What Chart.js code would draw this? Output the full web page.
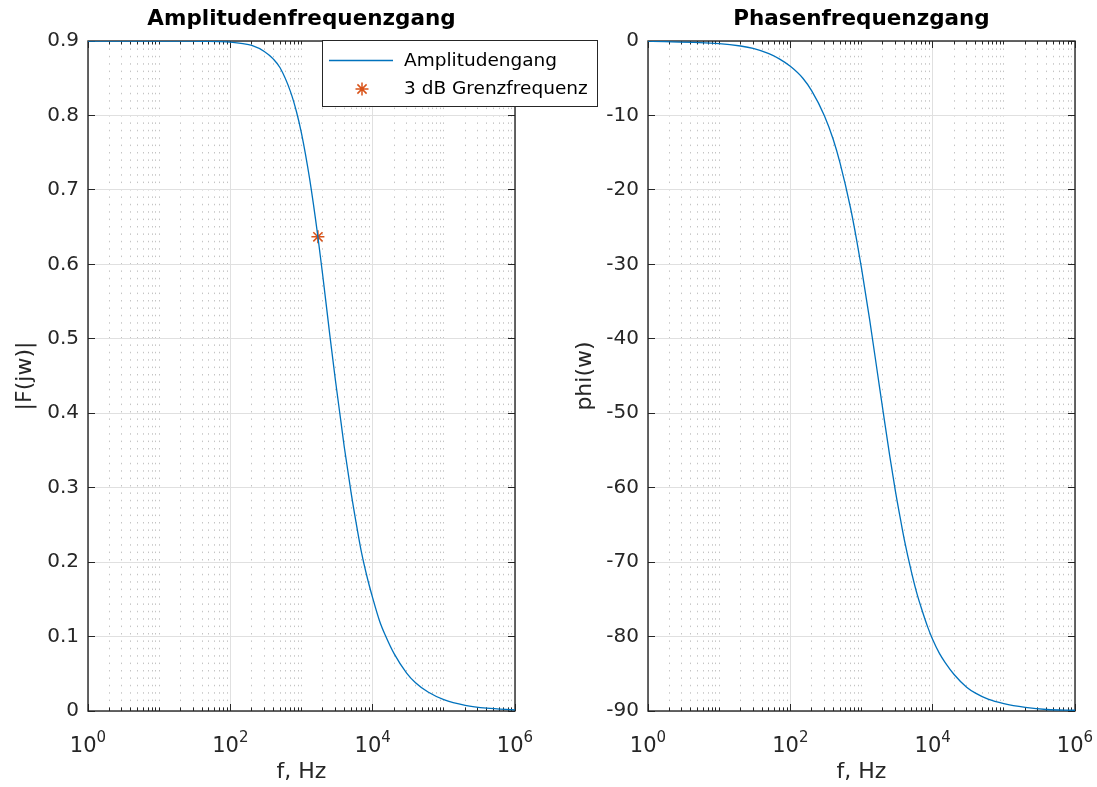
<!DOCTYPE html>
<html><head><meta charset="utf-8">
<script src="https://cdn.jsdelivr.net/npm/chart.js@4"></script>
<style>
html,body{margin:0;padding:0;background:#fff;}
#wrap{position:relative;width:1097px;height:787px;overflow:hidden;background:#fff;}
#c1{position:absolute;left:0;top:0;z-index:2;}
#c2{position:absolute;left:540px;top:0;z-index:1;}
</style></head><body>
<div id="wrap"><canvas id="c2" width="557" height="787"></canvas><canvas id="c1" width="640" height="787"></canvas></div>
<script>
// ---- data ----
const freqHz    = [1, 10, 20, 30, 50, 70, 100, 150, 200, 300, 400, 500, 700, 850, 1000, 1300, 1700, 2000, 2500, 3000, 3600, 4000, 5000, 6000, 7000, 8500, 10000, 12500, 15000, 20000, 30000, 40000, 60000, 100000, 200000, 400000, 1000000];
const amplitude = [0.900, 0.900, 0.8999, 0.8997, 0.8995, 0.8992, 0.8985, 0.8965, 0.894, 0.886, 0.876, 0.864, 0.832, 0.805, 0.776, 0.715, 0.637, 0.583, 0.505, 0.444, 0.387, 0.354, 0.292, 0.247, 0.212, 0.177, 0.152, 0.121, 0.102, 0.077, 0.051, 0.038, 0.0255, 0.0153, 0.0077, 0.0038, 0.0015];
const phaseDeg  = [-0.03, -0.34, -0.67, -1.0, -1.7, -2.4, -3.4, -5.0, -6.7, -10.0, -13.2, -16.4, -22.4, -26.6, -30.5, -37.4, -45.0, -49.6, -55.8, -60.5, -64.7, -67.0, -71.2, -74.2, -76.3, -78.7, -80.4, -82.3, -83.5, -85.1, -86.8, -87.6, -88.4, -89.0, -89.5, -89.8, -89.9];
const cutoffFreq = [1700];
const cutoffAmp  = [0.637];
const xMajorTicks = [1, 100, 10000, 1000000];
const xMajorExp   = ['0', '2', '4', '6'];
const ampTicks = [0, 0.1, 0.2, 0.3, 0.4, 0.5, 0.6, 0.7, 0.8, 0.9];
const phaseTicks = [-90, -80, -70, -60, -50, -40, -30, -20, -10, 0];
const titles = ['Amplitudenfrequenzgang', 'Phasenfrequenzgang'];
const yTitles = ['|F(jw)|', 'phi(w)'];
const xTitle = 'f, Hz';
const seriesNames = ['Amplitudengang', '3 dB Grenzfrequenz'];

// all x tick positions (1..9 x 10^k)
const xAllTicks = [];
for (let d = 0; d < 6; d++) for (let m = 1; m < 10; m++) xAllTicks.push(m * Math.pow(10, d));
xAllTicks.push(1000000);

// ---- style ----
const FAM = "'DejaVu Sans', 'Liberation Sans', Arial, sans-serif";
const TXT = '#262626';
const F_TICK = 20, F_XB = 21, F_EXP = 15, F_LAB = 22, F_TITLE = 21.5, F_LEG = 18.5;
const BLUE = '#0072BD', ORANGE = '#D95319';
const MAJOR_GRID = '#e0e0e0', MINOR_GRID = '#c4c4c4';

Chart.defaults.font.family = FAM;
Chart.defaults.color = TXT;
Chart.defaults.animation = false;

const isMajorX = v => xMajorTicks.includes(v);

function decor(withLegend) {
  return {
    id: 'decor',
    beforeDatasetsDraw(chart) {
      const ctx = chart.ctx, ca = chart.chartArea, xs = chart.scales.x, ys = chart.scales.y;
      ctx.save();
      ctx.strokeStyle = TXT; ctx.lineWidth = 1; ctx.setLineDash([]);
      ctx.beginPath();
      xs.ticks.forEach(t => {
        const px = Math.round(xs.getPixelForValue(t.value) - 0.5) + 0.5;
        const L = isMajorX(t.value) ? 7 : 3.5;
        ctx.moveTo(px, ca.bottom); ctx.lineTo(px, ca.bottom - L);
        ctx.moveTo(px, ca.top); ctx.lineTo(px, ca.top + L);
      });
      ys.ticks.forEach(t => {
        const py = Math.round(ys.getPixelForValue(t.value) - 0.5) + 0.5;
        ctx.moveTo(ca.left, py); ctx.lineTo(ca.left + 7, py);
        ctx.moveTo(ca.right, py); ctx.lineTo(ca.right - 7, py);
      });
      ctx.stroke();
      ctx.lineWidth = 1.4;
      ctx.strokeRect(ca.left, ca.top, ca.right - ca.left, ca.bottom - ca.top);
      ctx.restore();
    },
    afterDraw(chart) {
      const ctx = chart.ctx, xs = chart.scales.x;
      ctx.save();
      ctx.fillStyle = TXT; ctx.textBaseline = 'alphabetic'; ctx.textAlign = 'left';
      xMajorTicks.forEach((v, i) => {
        const px = xs.getPixelForValue(v);
        ctx.font = F_XB + 'px ' + FAM;
        const wb = ctx.measureText('10').width;
        ctx.font = F_EXP + 'px ' + FAM;
        const we = ctx.measureText(xMajorExp[i]).width;
        const x0 = px - (wb + we) / 2;
        ctx.font = F_XB + 'px ' + FAM;
        ctx.fillText('10', x0, 752);
        ctx.font = F_EXP + 'px ' + FAM;
        ctx.fillText(xMajorExp[i], x0 + wb, 742);
      });
      if (withLegend) {
        const ds = chart.data.datasets;
        ctx.fillStyle = '#ffffff';
        ctx.fillRect(322, 40, 276, 66);
        ctx.strokeStyle = TXT; ctx.lineWidth = 1;
        ctx.strokeRect(322.5, 40.5, 275, 66);
        ctx.strokeStyle = BLUE; ctx.lineWidth = 1.3;
        ctx.beginPath(); ctx.moveTo(329, 60.5); ctx.lineTo(393, 60.5); ctx.stroke();
        // star marker
        const sx = 362, sy = 89, r = 6.5;
        ctx.strokeStyle = ORANGE; ctx.lineWidth = 1.5;
        ctx.beginPath();
        ctx.moveTo(sx - r, sy); ctx.lineTo(sx + r, sy);
        ctx.moveTo(sx, sy - r); ctx.lineTo(sx, sy + r);
        const d = r * Math.SQRT1_2;
        ctx.moveTo(sx - d, sy - d); ctx.lineTo(sx + d, sy + d);
        ctx.moveTo(sx - d, sy + d); ctx.lineTo(sx + d, sy - d);
        ctx.stroke();
        ctx.fillStyle = '#000'; ctx.font = F_LEG + 'px ' + FAM; ctx.textBaseline = 'middle';
        ctx.fillText(ds[0].label, 404, 61);
        ctx.fillText(ds[1].label, 404, 89);
      }
      ctx.restore();
    }
  };
}

function xScale() {
  return {
    type: 'logarithmic', min: 1, max: 1000000,
    afterBuildTicks(scale) { scale.ticks = xAllTicks.map(v => ({ value: v, major: isMajorX(v) })); },
    afterFit(scale) { scale.height = 76; },
    ticks: { display: false, autoSkip: false },
    grid: {
      drawTicks: false,
      color: c => (c.tick && isMajorX(c.tick.value)) ? MAJOR_GRID : MINOR_GRID,
      lineWidth: 1
    },
    border: {
      display: false,
      dash: c => (c.tick && !isMajorX(c.tick.value)) ? [1.5, 5.9] : []
    },
    title: { display: true, text: xTitle, color: TXT, font: { size: F_LAB, family: FAM }, padding: { top: 0, bottom: 2 } }
  };
}

function yScale(min, max, step, tickList, titleText, width, titlePad) {
  return {
    type: 'linear', min: min, max: max,
    afterBuildTicks(scale) { scale.ticks = tickList.map(v => ({ value: v })); },
    afterFit(scale) { scale.width = width; },
    ticks: {
      stepSize: step, padding: 9, color: TXT,
      font: { size: F_TICK, family: FAM },
      callback: v => String(Math.round(v * 10) / 10)
    },
    grid: { drawTicks: false, color: MAJOR_GRID, lineWidth: 1 },
    border: { display: false },
    title: { display: true, text: titleText, color: TXT, font: { size: F_LAB, family: FAM }, padding: { top: titlePad, bottom: 0 } }
  };
}

function titleOpts(text) {
  return {
    display: true, text: text, color: '#000', fullSize: false,
    font: { size: F_TITLE, weight: 'bold', family: FAM, lineHeight: 1.2 },
    padding: { top: 7, bottom: 41 - 7 - F_TITLE * 1.2 }
  };
}

new Chart(document.getElementById('c1'), {
  type: 'line',
  data: {
    datasets: [
      {
        label: seriesNames[0],
        data: freqHz.map((f, i) => ({ x: f, y: amplitude[i] })),
        borderColor: BLUE, borderWidth: 1.3, pointRadius: 0, fill: false,
        cubicInterpolationMode: 'monotone'
      },
      {
        label: seriesNames[1],
        data: cutoffFreq.map((f, i) => ({ x: f, y: cutoffAmp[i] })),
        showLine: false, pointStyle: 'star', pointRadius: 6.5,
        pointBorderColor: ORANGE, pointBackgroundColor: ORANGE, pointBorderWidth: 1.5
      }
    ]
  },
  options: {
    responsive: false, devicePixelRatio: 1, events: [],
    layout: { padding: { left: 0, right: 125, top: 0, bottom: 0 } },
    scales: { x: xScale(), y: yScale(0, 0.9, 0.1, ampTicks, yTitles[0], 88, 12) },
    plugins: { legend: { display: false }, tooltip: { enabled: false }, title: titleOpts(titles[0]) }
  },
  plugins: [decor(true)]
});

new Chart(document.getElementById('c2'), {
  type: 'line',
  data: {
    datasets: [
      {
        label: 'Phasengang',
        data: freqHz.map((f, i) => ({ x: f, y: phaseDeg[i] })),
        borderColor: BLUE, borderWidth: 1.3, pointRadius: 0, fill: false,
        cubicInterpolationMode: 'monotone'
      }
    ]
  },
  options: {
    responsive: false, devicePixelRatio: 1, events: [],
    layout: { padding: { left: 0, right: 22, top: 0, bottom: 0 } },
    scales: { x: xScale(), y: yScale(-90, 0, 10, phaseTicks, yTitles[1], 108, 32) },
    plugins: { legend: { display: false }, tooltip: { enabled: false }, title: titleOpts(titles[1]) }
  },
  plugins: [decor(false)]
});
</script>
</body></html>
